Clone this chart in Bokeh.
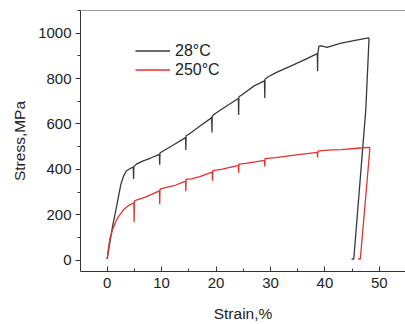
from bokeh.plotting import figure
from bokeh.models import Legend, LegendItem, Range1d, FixedTicker, Span
from bokeh.embed import file_html
from bokeh.resources import INLINE

# 28°C curve (strain %, stress MPa)
strain_28 = [0, 0.3, 0.65, 1.0, 1.6, 2.5, 3.0, 3.5, 4.3, 4.8, 4.85, 4.9, 5.3, 6.5, 8.0,
             9.6, 9.65, 9.7, 10.2, 12.0, 14.4, 14.45, 14.5, 15.0, 17.0,
             19.2, 19.25, 19.3, 19.8, 22.0, 24.1, 24.15, 24.2, 24.7, 27.0,
             28.9, 28.95, 29.0, 29.6, 31.0, 34.0, 36.0, 38.6, 38.65, 38.7, 38.9,
             39.4, 40.4, 42.8, 45.3, 48.0, 48.1, 47.5, 45.3, 44.9]
stress_28 = [5, 50, 100, 150, 220, 333, 370, 393, 405, 410, 358, 412, 422, 436, 450,
             466, 420, 472, 480, 505, 540, 485, 548, 555, 590,
             628, 562, 634, 645, 680, 712, 640, 720, 728, 768,
             790, 714, 798, 808, 826, 858, 880, 910, 832, 912, 943,
             944, 937, 955, 967, 979, 976, 660, 5, 5]

# 250°C curve
strain_250 = [0, 0.2, 0.5, 1.0, 1.5, 2.0, 3.0, 4.0, 4.9, 4.95, 5.0, 5.5, 7.0,
              9.6, 9.65, 9.7, 10.5, 12.5, 14.4, 14.45, 14.5, 15.5, 17.0,
              19.3, 19.35, 19.4, 21.0, 24.1, 24.15, 24.2, 25.5,
              28.9, 28.95, 29.0, 31.0, 34.0, 38.6, 38.65, 38.7, 40.5, 43.0, 46.0,
              48.2, 48.25, 46.5, 46.1]
stress_250 = [5, 45, 95, 135, 165, 190, 222, 242, 252, 168, 260, 266, 278,
              305, 246, 313, 318, 330, 348, 304, 356, 358, 368,
              388, 350, 394, 400, 418, 385, 423, 426,
              440, 413, 447, 452, 462, 475, 452, 480, 485, 487, 493,
              497, 490, 5, 5]

x_ticks = [0, 10, 20, 30, 40, 50]
y_ticks = [0, 200, 400, 600, 800, 1000]
series_labels = ["28°C", "250°C"]
colors = ["#383838", "#e8302c"]

FONT = "Liberation Sans"
Y_MAX = 1100

p = figure(width=405, height=324, output_backend="svg", toolbar_location=None,
           x_range=Range1d(-4.9, 54.8), y_range=Range1d(-50, Y_MAX),
           min_border_left=80, min_border_right=0, min_border_top=10, min_border_bottom=49)
p.background_fill_color = "white"
p.border_fill_color = "white"
p.grid.visible = False
p.outline_line_color = None

# top frame border (the right border is cut off in the reference)
p.add_layout(Span(location=Y_MAX, dimension="width", line_color="#333333", line_width=1))

r1 = p.line(strain_28, stress_28, line_color=colors[0], line_width=1.3)
r2 = p.line(strain_250, stress_250, line_color=colors[1], line_width=1.3)

# x axis
xa = p.xaxis[0]
xa.ticker = FixedTicker(ticks=x_ticks, minor_ticks=[v + 5 for v in [-10] + x_ticks])
xa.major_tick_in = 5
xa.major_tick_out = 0
xa.minor_tick_in = 3
xa.minor_tick_out = 0
xa.axis_label = "Strain,%"
xa.major_label_standoff = 6
xa.axis_label_standoff = 14

ya = p.yaxis[0]
ya.ticker = FixedTicker(ticks=y_ticks, minor_ticks=[v + 100 for v in [-200] + y_ticks])
ya.major_tick_in = 0
ya.major_tick_out = 5
ya.minor_tick_in = 0
ya.minor_tick_out = 3
ya.axis_label = "Stress,MPa"
ya.major_label_standoff = 4
ya.axis_label_standoff = 7

for ax in (xa, ya):
    ax.axis_line_color = "#333333"
    ax.major_tick_line_color = "#333333"
    ax.minor_tick_line_color = "#333333"
    ax.major_label_text_font = FONT
    ax.major_label_text_font_size = "15px"
    ax.major_label_text_color = "#222222"
    ax.axis_label_text_font = FONT
    ax.axis_label_text_font_size = "15.5px"
    ax.axis_label_text_font_style = "normal"
    ax.axis_label_text_color = "#222222"

legend = Legend(items=[LegendItem(label=series_labels[0], renderers=[r1]),
                       LegendItem(label=series_labels[1], renderers=[r2])],
                location=(55, 192), padding=0, margin=0, spacing=0,
                glyph_width=35, glyph_height=19, label_height=19, label_standoff=5,
                label_text_font=FONT, label_text_font_size="16px", label_text_color="#222222",
                border_line_color=None, background_fill_alpha=0)
p.add_layout(legend)

open("out.html", "w").write(file_html(p, INLINE))
